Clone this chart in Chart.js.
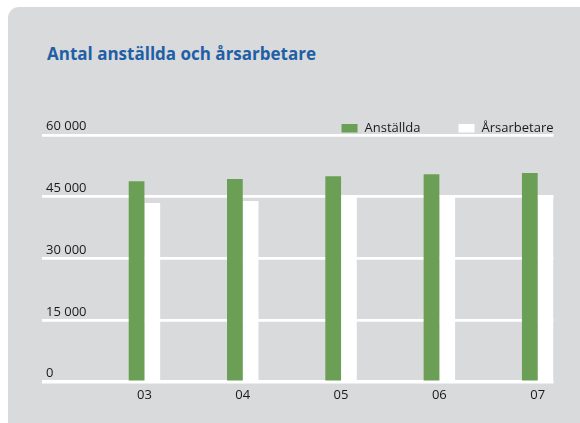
<!DOCTYPE html>
<html>
<head>
<meta charset="utf-8">
<script src="https://cdn.jsdelivr.net/npm/chart.js@4.4.0/dist/chart.umd.min.js"></script>
<style>
  body { margin: 0; background: #ffffff; width: 580px; height: 423px; overflow: hidden; position: relative; }
  #card { position: absolute; left: 8px; top: 7px; width: 600px; height: 430px; background: #d9dadc; border-radius: 11px; }
  #title { position: absolute; left: 47px; top: 44px; line-height: 20px; font-family: "Open Sans", sans-serif; font-weight: bold; font-size: 17px; color: #1f5fa6; white-space: nowrap; }
  #chart1 { position: absolute; left: 0; top: 0; }
</style>
</head>
<body>
<div id="card"></div>
<div id="title">Antal anställda och årsarbetare</div>
<canvas id="chart1" width="580" height="423"></canvas>
<script>
  // data
  var categories = ['03', '04', '05', '06', '07'];
  var anstallda = [48800, 49300, 50000, 50500, 50800];
  var arsarbetare = [43500, 44000, 45300, 45300, 45300];
  var yTickValues = [0, 15000, 30000, 45000, 60000];

  function formatNumber(v) {
    return String(v).replace(/\B(?=(\d{3})+(?!\d))/g, ' ');
  }

  function toPoints(values) {
    return values.map(function (v, i) { return { x: i, y: v }; });
  }

  // legend drawn above the top grid line, right aligned
  var legendPlugin = {
    id: 'rightLegend',
    afterDraw: function (chart) {
      var ctx = chart.ctx;
      var area = chart.chartArea;
      var y = area.top - 7;
      ctx.save();
      ctx.font = '13px "Open Sans"';
      ctx.textBaseline = 'middle';
      var x = area.right;
      for (var i = chart.data.datasets.length - 1; i >= 0; i--) {
        var ds = chart.data.datasets[i];
        x -= ctx.measureText(ds.label).width;
        ctx.fillStyle = '#1a1a1a';
        ctx.fillText(ds.label, x, y);
        x -= 7 + 16;
        ctx.fillStyle = ds.backgroundColor;
        ctx.fillRect(x, y - 4, 16, 8.5);
        x -= 38;
      }
      ctx.restore();
    }
  };

  Chart.defaults.font.family = '"Open Sans", sans-serif';
  Chart.defaults.font.size = 13;
  Chart.defaults.color = '#1a1a1a';

  var ctx1 = document.getElementById('chart1').getContext('2d');
  var chart1 = new Chart(ctx1, {
    type: 'bar',
    data: {
      datasets: [{
        label: 'Anställda',
        data: toPoints(anstallda),
        backgroundColor: '#6b9f55'
      }, {
        label: 'Årsarbetare',
        data: toPoints(arsarbetare),
        backgroundColor: '#ffffff'
      }]
    },
    options: {
      responsive: false,
      animation: false,
      categoryPercentage: 0.32,
      barPercentage: 1.0,
      layout: { padding: { left: 42, right: 26.5, top: 135, bottom: 0 } },
      plugins: {
        legend: { display: false },
        tooltip: { enabled: false }
      },
      scales: {
        x: {
          type: 'linear',
          min: -1.042,
          max: 4.161,
          offset: false,
          grid: { display: false, offset: false },
          border: { display: false },
          afterBuildTicks: function (scale) {
            scale.ticks = categories.map(function (c, i) { return { value: i }; });
          },
          afterFit: function (scale) { scale.height = 40.8; },
          ticks: {
            autoSkip: false,
            maxRotation: 0,
            padding: -3,
            callback: function (v) { return categories[v]; }
          }
        },
        y: {
          min: 0,
          max: 60000,
          border: { display: false },
          grid: {
            color: '#ffffff',
            drawTicks: false,
            lineWidth: function (c) { return c.tick && c.tick.value === 0 ? 3.5 : 2.7; }
          },
          afterBuildTicks: function (scale) {
            scale.ticks = yTickValues.map(function (v) { return { value: v }; });
          },
          afterFit: function (scale) { scale.width = 0; },
          ticks: {
            mirror: true,
            padding: 4,
            labelOffset: -8.5,
            callback: function (v) { return formatNumber(v); }
          }
        }
      }
    },
    plugins: [legendPlugin]
  });
</script>
</body>
</html>
